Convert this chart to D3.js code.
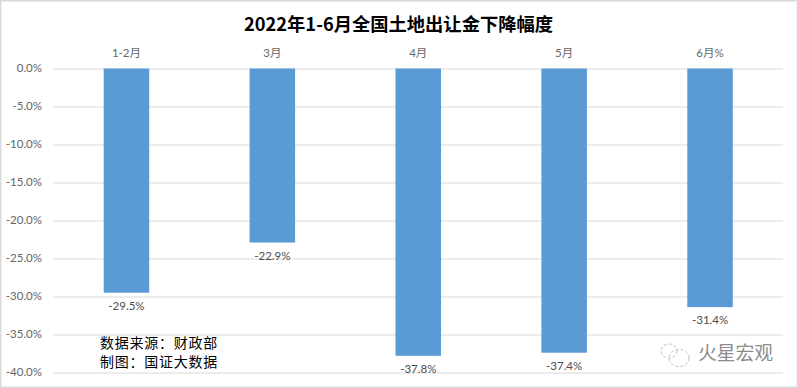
<!DOCTYPE html>
<html>
<head>
<meta charset="utf-8">
<script src="https://cdn.jsdelivr.net/npm/d3@7"></script>
<style>
body { margin: 0; background: #fff; overflow: hidden; }
svg { display: block; }
text { font-family: "Noto Sans CJK SC", "Noto Sans", sans-serif; }
.num { font-family: Lato, "Noto Sans CJK SC", sans-serif; }
</style>
</head>
<body>
<svg width="798" height="388"></svg>
<script>
const categories = ['1-2月', '3月', '4月', '5月', '6月%']
const values = [-29.5, -22.9, -37.8, -37.4, -31.4]
const yTicks = [0, -5, -10, -15, -20, -25, -30, -35, -40]
const title = '2022年1-6月全国土地出让金下降幅度'
const noteLines = ['数据来源：财政部', '制图：国证大数据']
const watermark = '火星宏观'

const svg = d3.select('svg')
const width = +svg.attr('width')
const height = +svg.attr('height')
const margin = { top: 68.5, right: 15, bottom: 15.5, left: 53 }

const xScale = d3.scaleBand()
    .domain(categories)
    .range([margin.left + 0.5, width - margin.right])
    .paddingInner(0.688)
    .paddingOuter(0.344)

const yScale = d3.scaleLinear()
    .domain([0, -40])
    .range([margin.top, height - margin.bottom])

// outer chart frame
svg.append('rect')
    .attr('x', 0.75)
    .attr('y', 0.75)
    .attr('width', width - 1.5)
    .attr('height', height - 1.5)
    .attr('fill', '#fff')
    .attr('stroke', '#d9d9d9')
    .attr('stroke-width', 1.5)

const yAxis = d3.axisLeft(yScale)
    .tickValues(yTicks)
    .tickSize(-(width - margin.left - margin.right))
    .tickPadding(11)
    .tickFormat(d => d3.format('.1f')(d).replace('−', '-') + '%')

const yAxisG = svg.append('g')
    .attr('transform', `translate(${margin.left},0)`)
    .call(yAxis)
yAxisG.select('.domain').remove()
yAxisG.selectAll('line').attr('stroke', '#d9d9d9')
yAxisG.selectAll('text')
    .attr('class', 'num')
    .attr('fill', '#666')
    .attr('font-size', 11.5)
    .attr('dy', '0.25em')

const xAxis = d3.axisTop(xScale).tickSize(0).tickPadding(12)
const xAxisG = svg.append('g')
    .attr('transform', `translate(0,${margin.top})`)
    .call(xAxis)
xAxisG.select('.domain').remove()
xAxisG.selectAll('text')
    .attr('class', 'num')
    .attr('fill', '#666')
    .attr('font-size', 11.5)

const bars = categories.map((c, i) => ({ category: c, value: values[i] }))

svg.append('g').selectAll('rect').data(bars)
    .enter().append('rect')
    .attr('x', d => xScale(d.category))
    .attr('y', yScale(0))
    .attr('width', xScale.bandwidth())
    .attr('height', d => yScale(d.value) - yScale(0))
    .attr('fill', '#5b9bd5')

svg.append('g').selectAll('text').data(bars)
    .enter().append('text')
    .attr('class', 'num')
    .attr('x', d => xScale(d.category) + xScale.bandwidth() / 2)
    .attr('y', d => yScale(d.value) + 17)
    .attr('text-anchor', 'middle')
    .attr('fill', '#4d4d4d')
    .attr('font-size', 11.5)
    .text(d => d3.format('.1f')(d.value).replace('−', '-') + '%')

svg.append('text')
    .attr('x', 398.5)
    .attr('y', 31)
    .attr('text-anchor', 'middle')
    .attr('fill', '#000')
    .attr('font-size', 18.3)
    .attr('font-weight', 'bold')
    .text(title)

svg.append('g').selectAll('text').data(noteLines)
    .enter().append('text')
    .attr('x', 100)
    .attr('y', (d, i) => 347.5 + i * 19)
    .attr('fill', '#000')
    .attr('font-size', 14)
    .attr('letter-spacing', 0.75)
    .text(d => d)

// watermark: chat bubbles, then name
const mark = svg.append('g')
    .attr('transform', 'translate(675,355)')
    .attr('fill', 'none')
    .attr('stroke', '#b5b5b5')
    .attr('stroke-width', 0.9)
    .attr('stroke-dasharray', '3 2')
mark.append('ellipse').attr('cx', -6).attr('cy', -4).attr('rx', 8).attr('ry', 7)
mark.append('ellipse').attr('cx', 4).attr('cy', 3).attr('rx', 10).attr('ry', 8.5)

svg.append('text')
    .attr('x', 698)
    .attr('y', 360)
    .attr('fill', '#8c8c8c')
    .attr('font-size', 18.8)
    .text(watermark)
</script>
</body>
</html>
